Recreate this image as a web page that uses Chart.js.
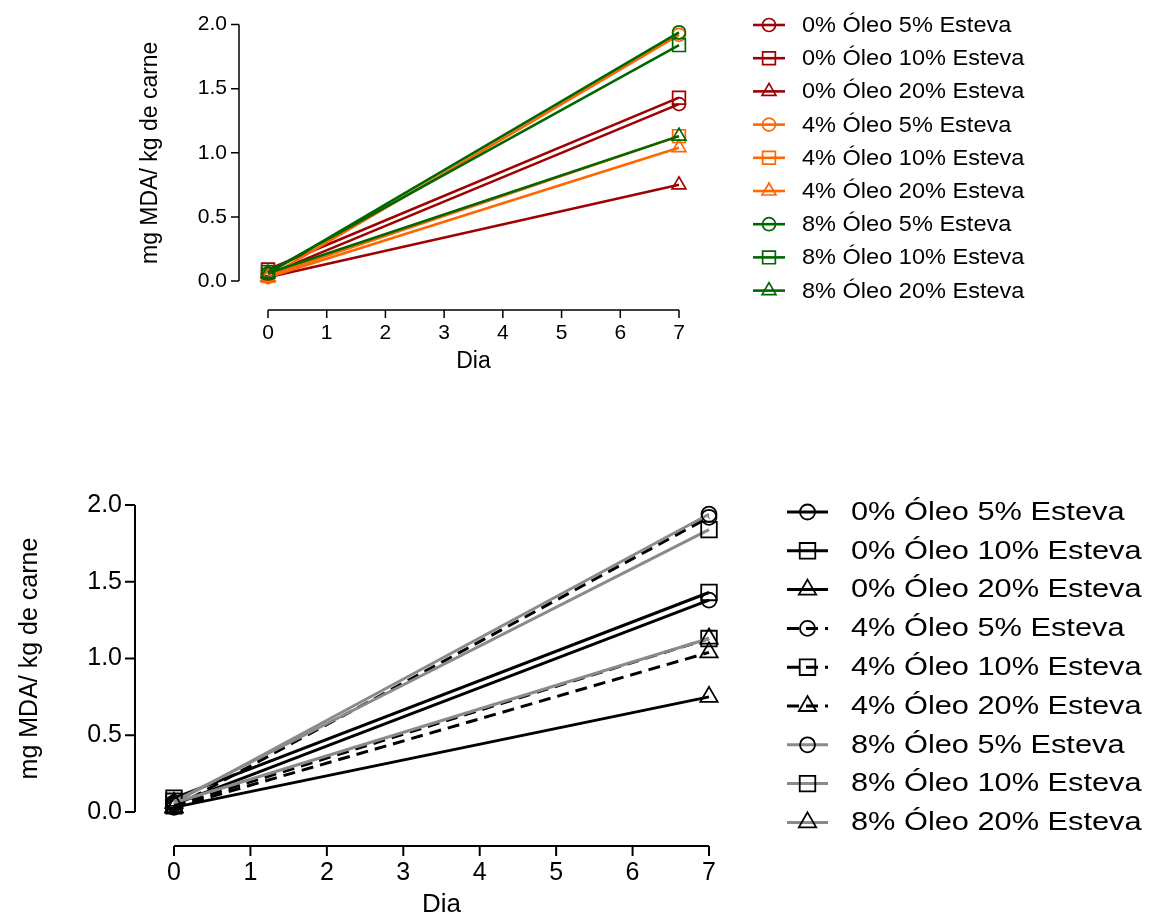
<!DOCTYPE html>
<html>
<head>
<meta charset="utf-8">
<script src="https://cdn.jsdelivr.net/npm/chart.js@4"></script>
<style>
  body { margin: 0; background: #fff; }
  #wrap { position: relative; width: 1158px; height: 920px; }
  .box { position: absolute; left: 0; width: 1158px; }
</style>
</head>
<body>
<div id="wrap">
  <div class="box" style="top:0;height:390px"><canvas id="chartColor"></canvas></div>
  <div class="box" style="top:430px;height:490px"><canvas id="chartGray"></canvas></div>
</div>
<script>
// days sampled
const days = [0, 7];
const xTicks = [0, 1, 2, 3, 4, 5, 6, 7];
const yTicks = [0, 0.5, 1.0, 1.5, 2.0];

const seriesNames = [
  '0% Óleo 5% Esteva', '0% Óleo 10% Esteva', '0% Óleo 20% Esteva',
  '4% Óleo 5% Esteva', '4% Óleo 10% Esteva', '4% Óleo 20% Esteva',
  '8% Óleo 5% Esteva', '8% Óleo 10% Esteva', '8% Óleo 20% Esteva'
];

// mg MDA / kg at day 0 and day 7
const oleo0est5 = [0.05, 1.38];
const oleo0est10 = [0.09, 1.43];
const oleo0est20 = [0.03, 0.75];
const oleo4est5 = [0.03, 1.92];
const oleo4est10 = [0.04, 1.13];
const oleo4est20 = [0.03, 1.04];
const oleo8est5 = [0.06, 1.94];
const oleo8est10 = [0.07, 1.84];
const oleo8est20 = [0.06, 1.13];

const seriesValues = [oleo0est5, oleo0est10, oleo0est20, oleo4est5, oleo4est10, oleo4est20, oleo8est5, oleo8est10, oleo8est20];
const shapes = ['circle', 'rect', 'triangle'];

const FONT = "'Liberation Sans', Arial, sans-serif";

// draws the detached Prism-style axes
const offsetAxes = {
  id: 'offsetAxes',
  afterDraw(chart, args, o) {
    const { ctx, chartArea, scales: { x, y } } = chart;
    ctx.save();
    ctx.strokeStyle = '#000';
    ctx.lineWidth = o.lineWidth;
    ctx.setLineDash([]);
    const left = chartArea.left - o.yGap;
    const yTop = y.getPixelForValue(yTicks[yTicks.length - 1]);
    const yBot = y.getPixelForValue(yTicks[0]);
    ctx.beginPath();
    ctx.moveTo(left, yTop);
    ctx.lineTo(left, yBot);
    yTicks.forEach(v => {
      const py = y.getPixelForValue(v);
      ctx.moveTo(left - o.tick, py);
      ctx.lineTo(left, py);
    });
    const ax = chartArea.bottom + o.xGap;
    ctx.moveTo(x.getPixelForValue(xTicks[0]), ax);
    ctx.lineTo(x.getPixelForValue(xTicks[xTicks.length - 1]), ax);
    xTicks.forEach(v => {
      const px = x.getPixelForValue(v);
      ctx.moveTo(px, ax);
      ctx.lineTo(px, ax + o.tick);
    });
    ctx.stroke();
    ctx.restore();
  }
};

// legend with line + marker samples
const lineLegend = {
  id: 'lineLegend',
  afterDraw(chart, args, o) {
    const ctx = chart.ctx;
    ctx.save();
    chart.data.datasets.forEach((ds, i) => {
      const cy = o.y + i * o.step;
      ctx.strokeStyle = ds.borderColor;
      ctx.lineWidth = ds.borderWidth;
      ctx.setLineDash(ds.borderDash || []);
      ctx.beginPath();
      ctx.moveTo(o.x0, cy);
      ctx.lineTo(o.x1, cy);
      ctx.stroke();
      ctx.setLineDash([]);
      ctx.strokeStyle = ds.pointBorderColor;
      ctx.fillStyle = ds.pointBackgroundColor;
      ctx.lineWidth = ds.pointBorderWidth;
      Chart.helpers.drawPoint(ctx, {
        pointStyle: ds.pointStyle, radius: ds.pointRadius, rotation: 0, borderWidth: ds.pointBorderWidth
      }, (o.x0 + o.x1) / 2, cy);
      ctx.fillStyle = '#000';
      ctx.font = o.fontSize + 'px ' + FONT;
      ctx.textBaseline = 'middle';
      ctx.textAlign = 'left';
      ctx.translate(o.tx, cy);
      ctx.scale(o.stretch, 1);
      ctx.fillText(ds.label, 0, 1);
      ctx.setTransform(1, 0, 0, 1, 0, 0);
    });
    ctx.restore();
  }
};

function makeChart(id, cfg) {
  const datasets = seriesValues.map((vals, i) => {
    const group = Math.floor(i / 3);
    const shape = shapes[i % 3];
    return {
      label: seriesNames[i],
      data: days.map((d, k) => ({ x: d, y: vals[k] })),
      borderColor: cfg.colors[group],
      pointBorderColor: cfg.markerColors[group],
      borderDash: cfg.dashes[group],
      borderWidth: cfg.lineWidth,
      pointBackgroundColor: 'rgba(0,0,0,0)',
      pointBorderWidth: cfg.markerWidth,
      pointStyle: shape,
      pointRadius: cfg.radius[shape],
      pointHoverRadius: cfg.radius[shape],
      order: 8 - i,
      clip: false,
      tension: 0
    };
  });

  return new Chart(document.getElementById(id), {
    type: 'line',
    data: { datasets },
    plugins: [offsetAxes, lineLegend],
    options: {
      responsive: true,
      maintainAspectRatio: false,
      animation: false,
      events: [],
      layout: { padding: { top: cfg.area.top, left: 0, right: 1158 - cfg.area.right, bottom: 0 } },
      plugins: {
        legend: { display: false },
        tooltip: { enabled: false },
        offsetAxes: { lineWidth: cfg.axisWidth, tick: cfg.tick, xGap: cfg.xGap, yGap: cfg.yGap },
        lineLegend: cfg.legend
      },
      scales: {
        x: {
          type: 'linear',
          min: 0,
          max: 7,
          afterBuildTicks: s => { s.ticks = xTicks.map(v => ({ value: v })); },
          afterFit: s => { s.height = cfg.height - cfg.area.bottom; },
          grid: { drawOnChartArea: false, drawTicks: true, tickLength: cfg.xGap, color: 'rgba(0,0,0,0)' },
          border: { display: false },
          ticks: { color: '#000', padding: cfg.xPad, font: { family: FONT, size: cfg.tickFont } },
          title: {
            display: true, text: 'Dia', color: '#000',
            font: { family: FONT, size: cfg.xTitleFont },
            padding: { top: 0, bottom: cfg.xTitlePad }
          }
        },
        y: {
          min: 0,
          max: 2,
          afterBuildTicks: s => { s.ticks = yTicks.map(v => ({ value: v })); },
          afterFit: s => { s.width = cfg.area.left; },
          grid: { drawOnChartArea: false, drawTicks: true, tickLength: cfg.yGap, color: 'rgba(0,0,0,0)' },
          border: { display: false },
          ticks: {
            color: '#000', padding: cfg.yPad,
            font: { family: FONT, size: cfg.tickFont },
            callback: v => v.toFixed(1)
          },
          title: {
            display: true, text: 'mg MDA/ kg de carne', color: '#000',
            font: { family: FONT, size: cfg.yTitleFont },
            padding: { top: cfg.yTitlePad, bottom: 0 }
          }
        }
      }
    }
  });
}

makeChart('chartColor', {
  height: 390,
  area: { top: 19, bottom: 281, left: 268, right: 679 },
  colors: ['#a00000', '#ff6600', '#006600'],
  markerColors: ['#a00000', '#ff6600', '#006600'],
  dashes: [[], [], []],
  lineWidth: 2.6,
  markerWidth: 1.7,
  radius: { circle: 6.5, rect: 9, triangle: 8 },
  axisWidth: 1.5, tick: 8, xGap: 29, yGap: 29,
  tickFont: 21, xTitleFont: 23, yTitleFont: 23,
  xPad: 11, yPad: 12, xTitlePad: 15, yTitlePad: 137,
  legend: { x0: 753, x1: 785, tx: 802, y: 25, step: 33.2, fontSize: 22, stretch: 1.07 }
});

makeChart('chartGray', {
  height: 490,
  area: { top: 75, bottom: 382, left: 174, right: 709 },
  colors: ['#000000', '#000000', '#8a8a8a'],
  markerColors: ['#000000', '#000000', '#000000'],
  dashes: [[], [12, 7], []],
  lineWidth: 3,
  markerWidth: 1.8,
  radius: { circle: 7.5, rect: 11, triangle: 10 },
  axisWidth: 2, tick: 10, xGap: 34, yGap: 39,
  tickFont: 25, xTitleFont: 26, yTitleFont: 25,
  xPad: 12, yPad: 13, xTitlePad: 0, yTitlePad: 15,
  legend: { x0: 787, x1: 828, tx: 851, y: 82, step: 38.8, fontSize: 25, stretch: 1.23 }
});
</script>
</body>
</html>
